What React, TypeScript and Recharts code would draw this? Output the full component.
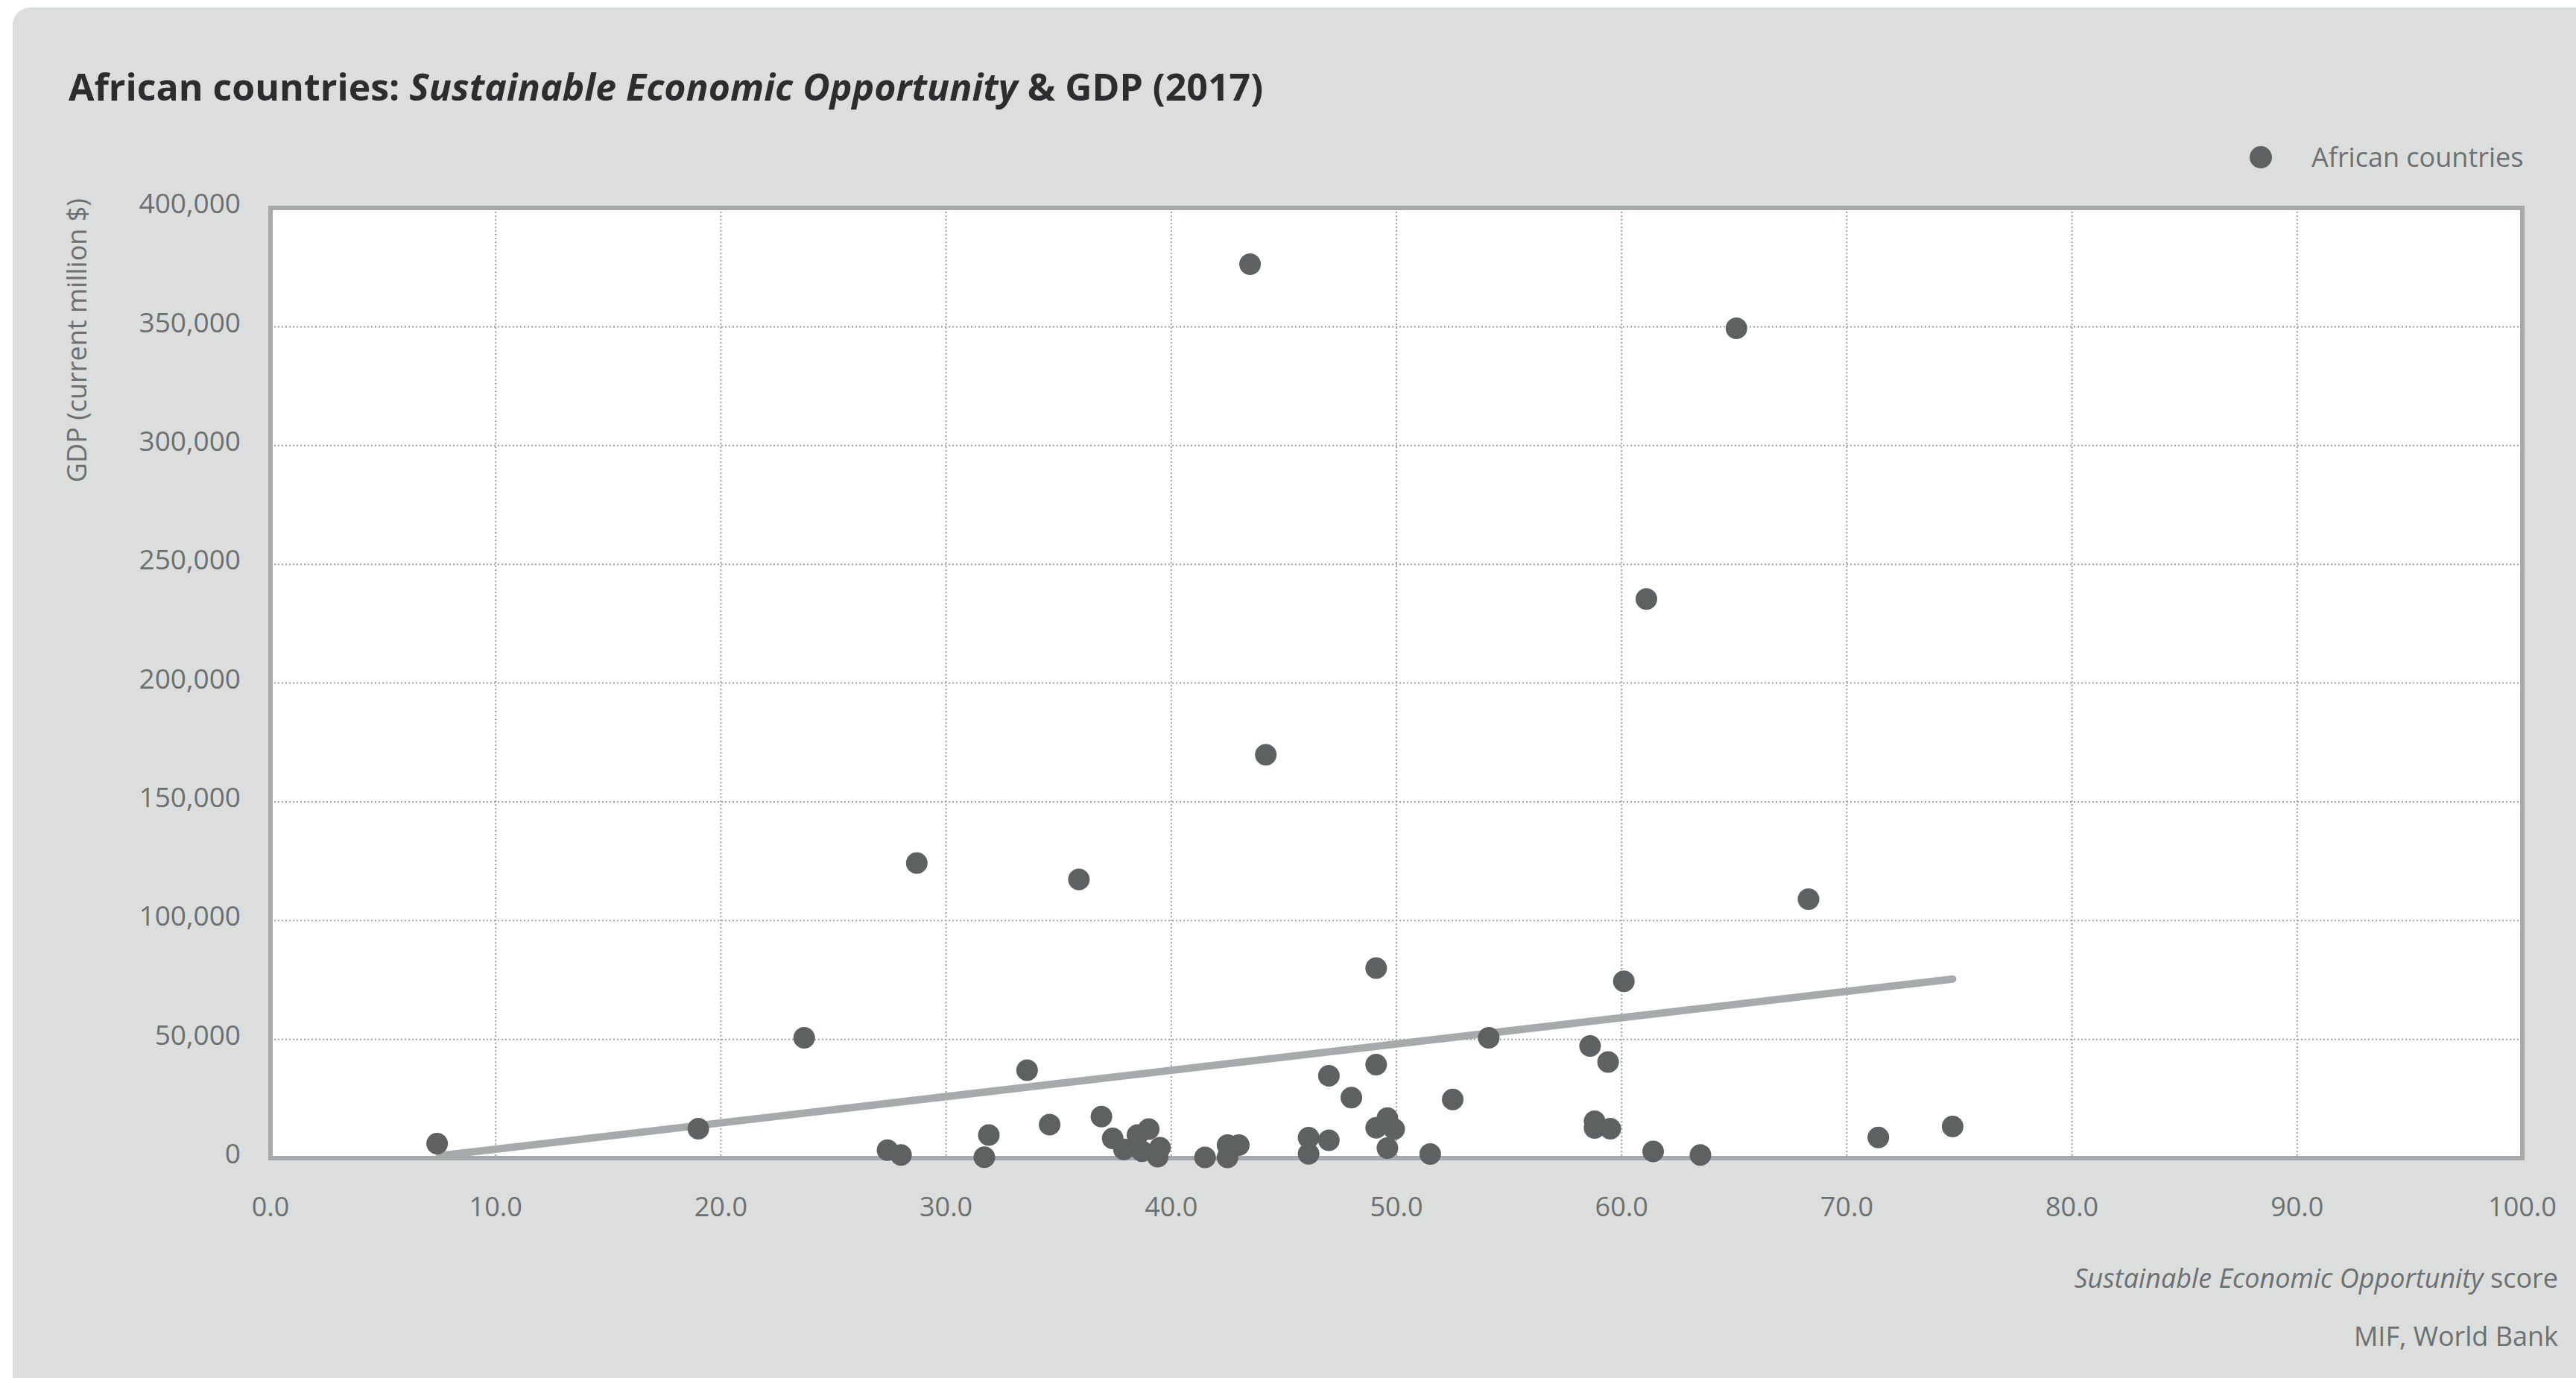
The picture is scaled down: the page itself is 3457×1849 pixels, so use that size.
import React from 'react';
import {
  ScatterChart,
  Scatter,
  XAxis,
  YAxis,
  CartesianGrid,
  ReferenceArea,
  Legend,
} from 'recharts';

// Sustainable Economic Opportunity score per country
const SEO_SCORE = [
  7.4, 19.0, 23.7, 27.4, 28.0, 28.7, 31.7, 31.9, 33.6, 34.6, 35.9, 36.9, 37.4,
  37.9, 38.5, 38.7, 39.0, 39.4, 39.5, 41.5, 42.5, 42.5, 43.0, 43.5, 44.2, 46.1,
  46.1, 47.0, 47.0, 48.0, 49.1, 49.1, 49.1, 49.6, 49.6, 49.9, 51.5, 52.5, 54.1,
  58.6, 58.8, 58.8, 59.4, 59.5, 60.1, 61.1, 61.4, 63.5, 65.1, 68.3, 71.4, 74.7,
];

// GDP (current million $) per country
const GDP = [
  6100, 12400, 50700, 3400, 1300, 124200, 400, 9700, 37000, 14100, 117300,
  17500, 8300, 3700, 9700, 2900, 12200, 600, 4400, 300, 5500, 300, 5500,
  376300, 169800, 8600, 1800, 34700, 7500, 25500, 80000, 39400, 12800, 16900,
  4200, 12200, 1700, 24700, 50700, 47200, 15500, 12700, 40500, 12400, 74400,
  235400, 2800, 1300, 349300, 109000, 8700, 13300,
];

// trend line end points
const TREND_X = [7.5, 74.7];
const TREND_Y = [1000, 75400];

const X_TICKS = [0, 10, 20, 30, 40, 50, 60, 70, 80, 90, 100];
const Y_TICKS = [0, 50000, 100000, 150000, 200000, 250000, 300000, 350000, 400000];

const points = SEO_SCORE.map((x, i) => ({ x, y: GDP[i] }));
const trend = TREND_X.map((x, i) => ({ x, y: TREND_Y[i] }));

const FONT = '"Open Sans", "Noto Sans", sans-serif';
const TEXT = '#6d7071';
const DOT = '#5d6161';
const FRAME = '#a7aaaa';

const Dot = (props: any) => <circle cx={props.cx} cy={props.cy} r={14.5} fill={DOT} />;

const LegendContent = (props: any) => {
  const items = (props.payload || []).filter((p: any) => p.type !== 'none');
  return (
    <div style={{ display: 'flex', alignItems: 'center', fontFamily: FONT }}>
      {items.map((p: any) => (
        <div key={p.value} style={{ display: 'flex', alignItems: 'center' }}>
          <span
            style={{
              width: 30,
              height: 30,
              borderRadius: 15,
              background: DOT,
              display: 'inline-block',
              marginRight: 53,
            }}
          />
          <span style={{ fontSize: 36, color: TEXT }}>{p.value}</span>
        </div>
      ))}
    </div>
  );
};

export default function App() {
  return (
    <div
      style={{
        position: 'absolute',
        left: 0,
        top: 0,
        width: 3457,
        height: 1849,
        background: '#fff',
        overflow: 'hidden',
        fontFamily: FONT,
      }}
    >
      <div
        style={{
          position: 'absolute',
          left: 17,
          top: 10,
          width: 3460,
          height: 1860,
          background: '#dcdedd',
          borderTopLeftRadius: 24,
        }}
      />
      <div
        style={{
          position: 'absolute',
          left: 92,
          top: 82,
          fontSize: 50,
          fontWeight: 700,
          color: '#2b2d2f',
          whiteSpace: 'nowrap',
        }}
      >
        African countries: <i>Sustainable Economic Opportunity</i> &amp; GDP (2017)
      </div>
      <div
        style={{
          position: 'absolute',
          left: 81,
          top: 266,
          writingMode: 'vertical-rl',
          transform: 'rotate(180deg)',
          fontSize: 36,
          lineHeight: '44px',
          color: TEXT,
          whiteSpace: 'nowrap',
        }}
      >
        GDP (current million $)
      </div>
      <div style={{ position: 'absolute', left: 0, top: 0 }}>
        <ScatterChart
          width={3457}
          height={1849}
          margin={{ top: 279, right: 72, bottom: 235, left: 63 }}
        >
          <CartesianGrid
            fill="#ffffff"
            stroke="#9fa2a2"
            strokeWidth={2}
            strokeDasharray="2 3"
            horizontalValues={Y_TICKS.slice(1, -1)}
            verticalValues={X_TICKS.slice(1, -1)}
          />
          <XAxis
            type="number"
            dataKey="x"
            domain={[0, 100]}
            ticks={X_TICKS}
            tickFormatter={(v: number) => v.toFixed(1)}
            axisLine={false}
            tickLine={false}
            tickSize={0}
            tickMargin={52}
            height={60}
            tick={{ fill: TEXT, fontSize: 36, fontFamily: FONT }}
            interval={0}
          />
          <YAxis
            type="number"
            dataKey="y"
            domain={[0, 400000]}
            ticks={Y_TICKS}
            tickFormatter={(v: number) => v.toLocaleString('en-US')}
            axisLine={false}
            tickLine={false}
            tickSize={0}
            tickMargin={40}
            width={300}
            tick={{ fill: TEXT, fontSize: 37, fontFamily: FONT, dy: -6 }}
            interval={0}
          />
          <ReferenceArea
            x1={0}
            x2={100}
            y1={0}
            y2={400000}
            fill="none"
            stroke={FRAME}
            strokeWidth={6}
          />
          <Legend
            layout="horizontal"
            verticalAlign="middle"
            align="center"
            content={<LegendContent />}
            wrapperStyle={{ top: 186, left: 3019, right: 'auto', bottom: 'auto', width: 430 }}
          />
          <Scatter
            name="Trend"
            data={trend}
            legendType="none"
            line={{ stroke: FRAME, strokeWidth: 10, strokeLinecap: 'round' }}
            shape={() => <g />}
            isAnimationActive={false}
          />
          <Scatter
            name="African countries"
            data={points}
            fill={DOT}
            shape={<Dot />}
            isAnimationActive={false}
          />
        </ScatterChart>
      </div>
      <div
        style={{
          position: 'absolute',
          right: 24,
          top: 1690,
          fontSize: 36,
          color: TEXT,
          whiteSpace: 'nowrap',
        }}
      >
        <i>Sustainable Economic Opportunity</i> score
      </div>
      <div
        style={{
          position: 'absolute',
          right: 24,
          top: 1768,
          fontSize: 36,
          color: TEXT,
          whiteSpace: 'nowrap',
        }}
      >
        MIF, World Bank
      </div>
    </div>
  );
}
